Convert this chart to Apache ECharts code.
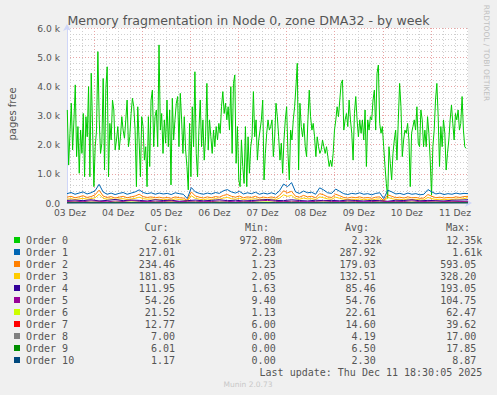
<!DOCTYPE html>
<html>
<head>
<meta charset="utf-8">
<style>
html, body { margin: 0; padding: 0; background: #f0f0f0; }
#chart { width: 497px; height: 395px; }
</style>
<script src="https://cdn.jsdelivr.net/npm/echarts@6/dist/echarts.min.js"></script>
</head>
<body>
<div id="chart"></div>
<script>
// x values are hours counted from 03 Dez 00:00
var startHour = 10.5;
var endHour = 210.5;

var seriesNames = ['Order 0', 'Order 1', 'Order 2', 'Order 3', 'Order 4', 'Order 5',
  'Order 6', 'Order 7', 'Order 8', 'Order 9', 'Order 10'];
var seriesColors = ['#00cc00', '#0066b3', '#ff8000', '#ffcc00', '#330099', '#990099',
  '#ccff00', '#ff0000', '#808080', '#008f00', '#00487d'];

// legend statistics, as printed
var curValues = ['2.61k', '217.01', '234.46', '181.83', '111.95', '54.26', '21.52', '12.77', '7.00', '6.01', '1.17'];
var minValues = ['972.80m', '2.23', '1.23', '2.05', '1.63', '9.40', '1.13', '6.00', '0.00', '0.00', '0.00'];
var avgValues = ['2.32k', '287.92', '179.03', '132.51', '85.46', '54.76', '22.61', '14.60', '4.19', '6.50', '2.30'];
var maxValues = ['12.35k', '1.61k', '593.05', '328.20', '193.05', '104.75', '62.47', '39.62', '17.00', '17.85', '8.87'];

// Order 0, one value every ~40 min
var order0 = [
  3190, 1300, 2390, 3420, 1820, 2850, 4050, 1590, 2620, 1020,
  2500, 1700, 3070, 900, 2960, 2270, 3990, 900, 4450, 2620,
  560, 1930, 2500, 5190, 2850, 1700, 2050, 4270, 1130, 3930,
  4670, 900, 2730, 2160, 3530, 3190, 1820, 2160, 2620, 1820,
  2270, 2960, 2500, 2220, 2850, 3530, 1930, 2270, 3070, 3590,
  3300, 2500, 560, 3300, 2160, 900, 2960, 2620, 1470, 1930,
  560, 2960, 1250, 3530, 3870, 1930, 2960, 3190, 1930, 5420,
  2500, 3070, 1700, 2850, 2050, 3530,
  1930, 3190, 620, 3590, 2160, 2850, 3420, 3650, 1930, 3760,
  2850, 1700, 2960, 1820, 1250, 450, 2730, 900, 3300, 1930,
  4500, 1700, 900, 2500, 3530, 1930, 2850, 1470, 2270, 4100,
  1820, 2850, 2270, 1700, 2500, 1930, 2620, 2160, 2730, 2390,
  3300, 3820, 3070, 3420, 2850, 3300, 2500, 3990, 1700, 4100,
  4390, 1360, 2620, 790, 560, 2160, 1250, 670, 2620, 560,
  2270, 1020, 1930, 2270, 3820, 2270, 2850, 1470, 2160, 2500,
  2850, 3530, 790, 1700, 2390, 2850,
  2500, 2620, 2850, 1590, 2270, 3420, 2960, 2270, 1470, 2050,
  1020, 2160, 2850, 3300, 1700, 790, 2500, 2160, 2850, 3300,
  3990, 4790, 1130, 3420, 2620, 2270, 2730, 1930, 1590, 2850,
  3870, 2960, 2500, 2730, 2270, 1590, 2270, 1930, 1700, 1820,
  2160, 1930, 1700, 1930, 1590, 1250, 1470, 1250, 1700, 2500,
  2850, 3300, 2960, 3530, 4100, 4220, 2500, 2850, 3070, 2620,
  3530, 2850, 2390, 1470, 3070, 3650, 2850, 2270, 2850, 2390,
  2850, 2160, 3190, 1250, 2850, 2500,
  2960, 2850, 3530, 3870, 2500, 4450, 4730, 2730, 2390, 2620,
  1930, 1250, 670, 160, 1930, 1360, 790, 1700, 2160, 2500,
  1470, 2850, 4100, 3300, 1590, 2160, 2500, 2390, 2730, 2160,
  560, 2390, 2620, 2850, 2500, 3300, 2050, 1930, 3190, 2850,
  1930, 2500, 1930, 2960, 2390, 1470, 270, 1930, 2500, 3530,
  4100, 2960, 1250, 2620, 1930, 2850, 2390, 1130, 1700, 2160,
  2850, 3360, 2730, 2160, 3070, 2850, 3190, 2500, 2730, 3650,
  2500, 1930, 1870
];

// Orders 1-3, one value every 2 h
var order1 = [
  320, 360, 300, 340, 380, 310, 350, 420, 640, 380,
  300, 340, 290, 330, 360, 300, 340, 380, 450, 360,
  320, 350, 300, 340, 310, 330, 290, 350, 320, 300,
  150, 530, 380, 330, 300, 340, 310, 360, 330, 420,
  460, 380, 340, 400, 310, 350, 320, 370, 300, 340,
  310, 350, 300, 420, 650, 560, 700, 380, 330, 410,
  350, 370, 300, 520, 450, 350, 330, 480, 400, 320,
  290, 330, 310, 350, 300, 320, 280, 330, 350, 150,
  440, 380, 310, 330, 290, 340, 300, 320, 280, 300,
  460, 380, 310, 340, 290, 320, 300, 340, 310, 330,
  320
];
var order2 = [
  200, 230, 180, 210, 250, 190, 220, 280, 440, 240,
  190, 220, 170, 200, 230, 180, 210, 240, 300, 220,
  190, 210, 180, 200, 170, 190, 160, 210, 180, 170,
  90, 380, 240, 200, 170, 210, 180, 220, 200, 260,
  290, 230, 200, 240, 180, 210, 190, 230, 170, 200,
  180, 210, 170, 260, 420, 350, 400, 230, 200, 260,
  210, 230, 180, 320, 280, 210, 190, 300, 250, 190,
  170, 200, 180, 210, 170, 190, 160, 200, 210, 80,
  280, 230, 180, 200, 170, 210, 180, 190, 160, 170,
  290, 230, 180, 200, 170, 190, 180, 210, 190, 220,
  230
];
var order3 = [
  130, 150, 120, 140, 160, 130, 150, 180, 300, 160,
  130, 150, 120, 140, 150, 120, 140, 160, 200, 150,
  130, 140, 120, 130, 110, 130, 100, 140, 120, 110,
  60, 250, 160, 130, 110, 140, 120, 150, 130, 170,
  190, 150, 130, 160, 120, 140, 130, 150, 110, 130,
  120, 140, 110, 170, 280, 230, 260, 150, 130, 170,
  140, 150, 120, 210, 180, 140, 130, 200, 160, 130,
  110, 130, 120, 140, 110, 130, 100, 130, 140, 50,
  190, 150, 120, 130, 110, 140, 120, 130, 100, 110,
  190, 150, 120, 130, 110, 130, 120, 140, 130, 150,
  180
];

// Orders 4-7, one value every 4 h
var order4 = [
  90, 100, 80, 110, 70, 90, 120, 80, 100, 90,
  70, 110, 85, 95, 60, 80, 100, 75, 90, 110,
  80, 95, 70, 85, 100, 120, 90, 80, 110, 85,
  70, 95, 80, 90, 75, 100, 85, 70, 90, 80,
  60, 95, 85, 110, 75, 90, 80, 70, 95, 100,
  112
];
var order5 = [
  50, 60, 45, 70, 55, 40, 65, 50, 80, 55,
  45, 60, 50, 70, 40, 55, 60, 45, 50, 65,
  55, 40, 60, 50, 70, 90, 55, 45, 60, 50,
  40, 55, 65, 50, 45, 60, 55, 40, 50, 60,
  45, 55, 50, 70, 45, 55, 60, 50, 55, 50,
  54
];
var order6 = [
  20, 25, 18, 30, 22, 15, 28, 20, 35, 22,
  18, 25, 20, 30, 15, 22, 26, 18, 20, 28,
  22, 15, 25, 20, 30, 40, 22, 18, 25, 20,
  15, 22, 28, 20, 18, 25, 22, 15, 20, 25,
  18, 22, 20, 30, 18, 22, 25, 20, 22, 20,
  21
];
var order7 = [
  12, 15, 18, 10, 14, 20, 12, 16, 10, 14,
  18, 12, 15, 25, 10, 14, 12, 16, 20, 12,
  14, 10, 18, 12, 15, 14, 12, 20, 10, 16,
  14, 12, 18, 10, 15, 12, 20, 14, 10, 16,
  12, 14, 18, 10, 15, 12, 16, 14, 12, 15,
  13
];

// Orders 8-10, one value every 8 h
var order8 = [4, 5, 3, 6, 4, 2, 5, 4, 7, 3, 4, 5, 2, 4, 6, 3, 5, 4, 3, 6, 4, 2, 5, 4, 6, 7];
var order9 = [6, 8, 5, 7, 9, 6, 5, 7, 6, 8, 5, 6, 7, 9, 6, 5, 7, 6, 8, 5, 7, 6, 5, 7, 6, 6];
var order10 = [2, 3, 2, 1, 3, 2, 4, 2, 3, 1, 2, 3, 2, 2, 4, 3, 1, 2, 3, 2, 1, 3, 2, 2, 3, 1];

var seriesData = [
  { values: order0, start: 10.65, step: 0.663 },
  { values: order1, start: startHour, step: 2 },
  { values: order2, start: startHour, step: 2 },
  { values: order3, start: startHour, step: 2 },
  { values: order4, start: startHour, step: 4 },
  { values: order5, start: startHour, step: 4 },
  { values: order6, start: startHour, step: 4 },
  { values: order7, start: startHour, step: 4 },
  { values: order8, start: startHour, step: 8 },
  { values: order9, start: startHour, step: 8 },
  { values: order10, start: startHour, step: 8 }
];

var sixHourTicks = [];
for (var h = 12; h <= endHour; h += 6) sixHourTicks.push(h);
var noonTicks = [];
for (var h2 = 12; h2 <= endHour; h2 += 24) noonTicks.push(h2);

var textColor = '#555';
var axisColor = '#cfd6f8';
var gridGrey = '#cfcfcf';
var gridRed = '#e8a4a4';

function toPairs(s) {
  return s.values.map(function (v, i) { return [s.start + i * s.step, v]; });
}

var series = seriesData.map(function (s, i) {
  return {
    name: seriesNames[i],
    type: 'line',
    data: toPairs(s),
    showSymbol: false,
    symbol: 'none',
    lineStyle: { color: seriesColors[i], width: 1 },
    itemStyle: { color: seriesColors[i] },
    z: 2 + i,
    animation: false
  };
});

// legend table
var graphics = [];
var rowTop = 240, rowGap = 12;
var mono = 'DejaVu Sans Mono';
var charW = 6.02;
function cell(str, right, y) {
  var hasUnit = /[a-z]$/i.test(str);
  return {
    type: 'text', x: right - (hasUnit ? 0 : charW), y: y,
    style: { text: str, fill: textColor, font: '10px "' + mono + '"', textAlign: 'right', textVerticalAlign: 'middle' }
  };
}
[['Cur:', 168.5], ['Min:', 269], ['Avg:', 369], ['Max:', 470]].forEach(function (hd) {
  graphics.push({
    type: 'text', x: hd[1], y: 227,
    style: { text: hd[0], fill: textColor, font: '10px "' + mono + '"', textAlign: 'right', textVerticalAlign: 'middle' }
  });
});
seriesNames.forEach(function (name, i) {
  var y = rowTop + i * rowGap;
  graphics.push({ type: 'rect', shape: { x: 14, y: y - 3, width: 6, height: 6 }, style: { fill: seriesColors[i] } });
  graphics.push({
    type: 'text', x: 26, y: y,
    style: { text: name, fill: textColor, font: '10px "' + mono + '"', textAlign: 'left', textVerticalAlign: 'middle' }
  });
  graphics.push(cell(curValues[i], 181, y));
  graphics.push(cell(minValues[i], 281.7, y));
  graphics.push(cell(avgValues[i], 381.7, y));
  graphics.push(cell(maxValues[i], 482.3, y));
});
graphics.push({
  type: 'text', x: 482.3, y: 372,
  style: { text: 'Last update: Thu Dec 11 18:30:05 2025', fill: textColor, font: '10px "' + mono + '"', textAlign: 'right', textVerticalAlign: 'middle' }
});
graphics.push({
  type: 'text', x: 248, y: 384,
  style: { text: 'Munin 2.0.73', fill: '#c8c8c8', font: '7.5px "DejaVu Sans"', textAlign: 'center', textVerticalAlign: 'middle' }
});
graphics.push({
  type: 'text', x: 67.5, y: 20,
  style: { text: 'Memory fragmentation in Node 0, zone DMA32 - by week', fill: textColor, font: '12.6px "DejaVu Sans"', textAlign: 'left', textVerticalAlign: 'middle' }
});
graphics.push({
  type: 'text', x: 12, y: 114, rotation: Math.PI / 2,
  style: { text: 'pages free', fill: textColor, font: '10px "DejaVu Sans"', textAlign: 'center', textVerticalAlign: 'middle' }
});
graphics.push({
  type: 'text', x: 486, y: 53, rotation: -Math.PI / 2,
  style: { text: 'RRDTOOL / TOBI OETIKER', fill: '#c0c0c0', font: '7.5px "DejaVu Sans"', textAlign: 'center', textVerticalAlign: 'middle' }
});

var chart = echarts.init(document.getElementById('chart'), null, { renderer: 'svg' });
chart.setOption({
  backgroundColor: '#f0f0f0',
  animation: false,
  grid: {
    left: 67, top: 28, right: 29, bottom: 192,
    show: true, backgroundColor: '#ffffff', borderWidth: 0
  },
  xAxis: {
    type: 'value', min: startHour, max: endHour,
    axisLine: {
      show: true, onZero: false,
      lineStyle: { color: axisColor, width: 1 },
      symbol: ['none', 'arrow'], symbolSize: [6, 7], symbolOffset: [0, 4]
    },
    axisTick: { show: false, customValues: sixHourTicks },
    axisLabel: {
      customValues: noonTicks,
      margin: 5, fontSize: 9.2, color: textColor, fontFamily: 'DejaVu Sans',
      formatter: function (v) {
        var d = Math.floor(v / 24) + 3;
        return (d < 10 ? '0' + d : '' + d) + ' Dez';
      }
    },
    splitLine: {
      show: true,
      lineStyle: { color: [gridGrey, gridGrey, gridRed, gridGrey], type: [1, 2], width: 1 }
    }
  },
  yAxis: {
    type: 'value', min: 0, max: 6000, interval: 200,
    axisLine: {
      show: true,
      lineStyle: { color: axisColor, width: 1 },
      symbol: ['none', 'arrow'], symbolSize: [6, 7], symbolOffset: [0, 4]
    },
    axisTick: { show: false },
    axisLabel: {
      margin: 7, fontSize: 9.2, color: textColor, fontFamily: 'DejaVu Sans',
      formatter: function (v) {
        if (v % 1000 !== 0) return '';
        return v === 0 ? '0.0' : (v / 1000).toFixed(1) + ' k';
      }
    },
    splitLine: {
      show: true,
      lineStyle: { color: [gridRed, gridGrey, gridGrey, gridGrey, gridGrey], type: [1, 2], width: 1 }
    }
  },
  series: series,
  graphic: graphics
});
</script>
</body>
</html>
